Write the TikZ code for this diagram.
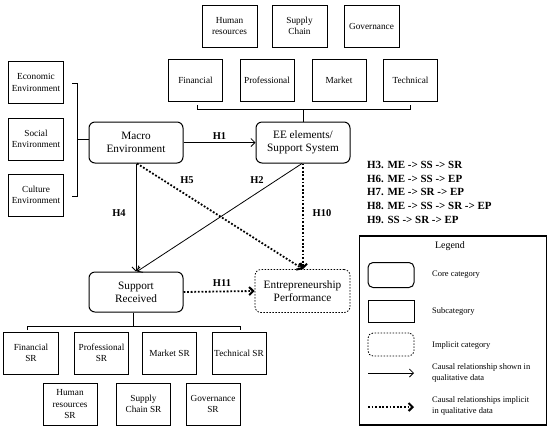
\documentclass[tikz,border=0pt]{standalone}
\usepackage{fontspec}
\setmainfont{Liberation Serif}
\usetikzlibrary{arrows.meta}
\begin{document}
\begin{tikzpicture}[x=1bp,y=-1bp,
 core/.style={draw, line width=1bp, rounded corners=6bp, minimum width=94bp, minimum height=41bp, align=center, inner sep=1bp, font=\fontsize{11.3}{13.4}\selectfont},
 sub/.style={draw, line width=1bp, minimum width=55bp, minimum height=42bp, align=center, inner sep=1bp, font=\fontsize{9.3}{11.5}\selectfont},
 impl/.style={draw, line width=0.8bp, dash pattern=on 1.5bp off 1.5bp, rounded corners=6bp, minimum width=95bp, minimum height=43bp, align=center, inner sep=1bp, font=\fontsize{11.3}{13.4}\selectfont},
 solidarrow/.style={line width=0.8bp, -{Straight Barb[length=4bp,width=8bp]}},
 dotarrow/.style={line width=1.8bp, dash pattern=on 1.8bp off 1.8bp, -{Straight Barb[length=4bp,width=8bp,line width=2bp]}},
 hlabel/.style={font=\bfseries\fontsize{10.5}{12}\selectfont, inner sep=0pt},
 bracket/.style={line width=0.8bp},
 legtext/.style={anchor=west, align=left, inner sep=0pt, font=\fontsize{8.5}{11}\selectfont}]
\useasboundingbox (0,0) rectangle (550,429);

% top rows
\node[sub] (hr) at (229.5,26) {Human\\resources};
\node[sub] (sc) at (299.5,26) {Supply\\Chain};
\node[sub] (gov) at (371.5,26) {Governance};
\node[sub, minimum width=54bp] (fin) at (195.5,80) {Financial};
\node[sub, minimum width=54bp] (prof) at (267,80) {Professional};
\node[sub, minimum width=54bp] (mkt) at (339,80) {Market};
\node[sub, minimum width=54bp] (tech) at (410.5,80) {Technical};

% left column
\node[sub, minimum width=54bp] (econ) at (36,82.5) {Economic\\Environment};
\node[sub, minimum width=54bp] (soc) at (36,139) {Social\\Environment};
\node[sub, minimum width=54bp] (cult) at (36,195) {Culture\\Environment};

% core
\node[core] (macro) at (136,142.5) {Macro\\Environment};
\node[core] (ee) at (303,142.5) {EE elements/\\Support System};
\node[core, minimum height=40bp] (sr) at (136,292) {Support\\Received};
\node[impl] (ep) at (302.5,291) {Entrepreneurship\\Performance};

% bottom rows
\node[sub, minimum width=54bp] (finsr) at (31,353) {Financial\\SR};
\node[sub, minimum width=54bp] (profsr) at (101.5,353) {Professional\\SR};
\node[sub, minimum width=54bp] (mktsr) at (169.5,353) {Market SR};
\node[sub, minimum width=54bp] (techsr) at (239,353) {Technical SR};
\node[sub, minimum width=54bp] (hrsr) at (70,404) {Human\\resources\\SR};
\node[sub, minimum width=54bp] (scsr) at (143.5,404) {Supply\\Chain SR};
\node[sub, minimum width=54bp] (govsr) at (213,404) {Governance\\SR};

% brackets
\draw[bracket] (197,105) -- (197,109) -- (410,109) -- (410,105);
\draw[bracket] (303,109) -- (ee.north);
\draw[bracket] (72,83) -- (77,83) -- (77,196) -- (72,196);
\draw[bracket] (77,139) -- (macro.west |- 0,139);
\draw[bracket] (sr.south -| 133,0) -- (133,326);
\draw[bracket] (27,330) -- (27,326) -- (240,326) -- (240,330);

% connectors
\draw[solidarrow] (macro.east) -- (ee.west) node[hlabel, midway, above=3bp] (h1) {H1};
\draw[solidarrow] (macro.south) -- (sr.north);
\draw[solidarrow] (ee.south -| 302,0) -- (sr.north -| 137,0);
\draw[dotarrow] (macro.south -| 137,0) -- (ep.north -| 303,0);
\draw[dotarrow] (ee.south -| 303,0) -- (ep.north -| 303,0);
\draw[dotarrow] (sr.east) -- (ep.west);

\node[hlabel] (h5) at (187,180) {H5};
\node[hlabel] (h2) at (257,180) {H2};
\node[hlabel] (h4) at (119,213) {H4};
\node[hlabel] (h10) at (322,213) {H10};
\node[hlabel] (h11) at (222,283) {H11};

% hypotheses
\node[anchor=north west, align=left, inner sep=0pt, font=\bfseries\fontsize{11}{13.7}\selectfont] (hyp) at (367,161)
{H3. ME -> SS -> SR\\H6. ME -> SS -> EP\\H7. ME -> SR -> EP\\H8. ME -> SS -> SR -> EP\\H9. SS -> SR -> EP};

% legend
\node[draw, line width=1.2bp, minimum width=187bp, minimum height=189bp, inner sep=0pt] (legend) at (453,330.5) {};
\node[inner sep=0pt, font=\fontsize{10}{12}\selectfont] (legt) at (450,246) {Legend};
\node[draw, line width=1bp, rounded corners=5bp, minimum width=46bp, minimum height=25bp, inner sep=0pt] (lcore) at (391,275) {};
\node[draw, line width=1bp, minimum width=46bp, minimum height=22bp, inner sep=0pt] (lsub) at (391,311) {};
\node[draw, line width=0.8bp, dash pattern=on 1.5bp off 1.5bp, rounded corners=5bp, minimum width=46bp, minimum height=23bp, inner sep=0pt] (limpl) at (391,344.5) {};
\coordinate (la1) at (368,373);
\coordinate (la2) at (414,373);
\coordinate (lb1) at (368,407);
\coordinate (lb2) at (414,407);
\draw[solidarrow] (la1) -- (la2);
\draw[dotarrow] (lb1) -- (lb2);
\node[legtext] (t1) at (432,275) {Core category};
\node[legtext] (t2) at (432,311) {Subcategory};
\node[legtext] (t3) at (432,345) {Implicit category};
\node[legtext] (t4) at (432,373) {Causal relationship shown in\\qualitative data};
\node[legtext] (t5) at (432,406) {Causal relationships implicit\\in qualitative data};
\end{tikzpicture}
\end{document}
